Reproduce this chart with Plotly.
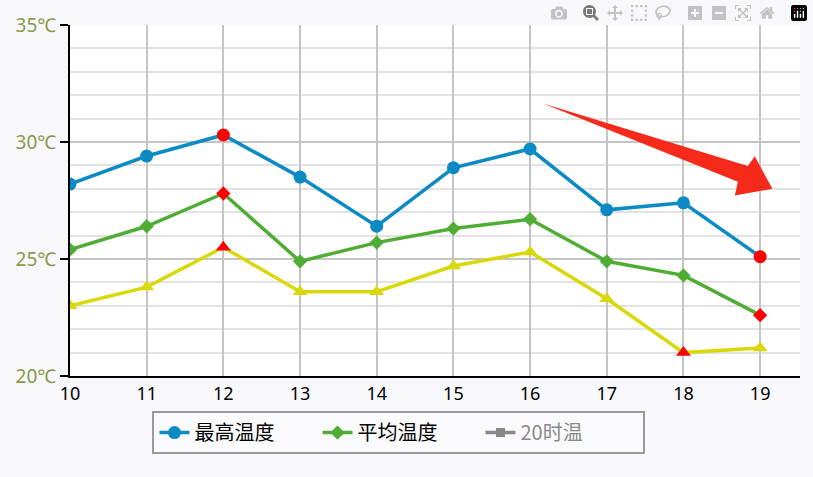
import plotly.graph_objects as go

days = [10, 11, 12, 13, 14, 15, 16, 17, 18, 19]
t_max = [28.2, 29.4, 30.3, 28.5, 26.4, 28.9, 29.7, 27.1, 27.4, 25.1]
t_avg = [25.4, 26.4, 27.8, 24.9, 25.7, 26.3, 26.7, 24.9, 24.3, 22.6]
t_20h = [23.0, 23.8, 25.5, 23.6, 23.6, 24.7, 25.3, 23.3, 21.0, 21.2]
hi_max = [12, 19]
hi_avg = [12, 19]
hi_20h = [12, 18]
y_ticks = [20, 25, 30, 35]

fig = go.Figure()


def series(name, ys, color, symbol, size, hi, legend=True):
    cols = ["red" if d in hi else color for d in days]
    fig.add_trace(go.Scatter(x=days, y=ys, name=name, mode="lines+markers",
                             line=dict(color=color, width=3.5),
                             marker=dict(color=cols, symbol=symbol, size=size),
                             showlegend=legend))


series("最高温度", t_max, "#0b8ac4", "circle", 13, hi_max)
series("平均温度", t_avg, "#4fad36", "diamond", 11, hi_avg)
series("20h", t_20h, "#d8d80a", "triangle-up", 13, hi_20h, legend=False)
# legend entry for the third series is grey in the original
fig.add_trace(go.Scatter(x=[None], y=[None], mode="lines+markers",
                         name="<span style='color:#888'>20时温</span>",
                         line=dict(color="#888", width=3.5),
                         marker=dict(color="#888", symbol="square", size=9)))

# big red arrow (pixel-estimated polygon in axis units)
fig.add_shape(type="path", xref="x", yref="y", fillcolor="#f52a1a", line_width=0,
              path="M 16.17 31.65 L 18.84 28.97 L 18.93 29.39 L 19.16 28.0 "
                   "L 18.67 27.71 L 18.71 28.30 Z")

fig.update_xaxes(range=[10, 19.52], tickvals=days, showgrid=True, gridcolor="#c4c4c4",
                 gridwidth=2, showline=True, linecolor="black", linewidth=2,
                 tickfont=dict(size=18, color="black", family="Noto Sans"),
                 zeroline=False)
fig.update_yaxes(range=[20, 35], tickvals=y_ticks, ticktext=[f"{v}℃" for v in y_ticks],
                 showgrid=True, gridcolor="#c4c4c4", gridwidth=2,
                 minor=dict(dtick=1, showgrid=True, gridcolor="#e2e2e2", gridwidth=2),
                 showline=True, linecolor="black", linewidth=2,
                 ticks="outside", ticklen=8, tickwidth=2, tickcolor="black",
                 tickfont=dict(size=19, color="#8a9a4a", family="Noto Sans"),
                 zeroline=False)
fig.update_layout(width=813, height=477, paper_bgcolor="#f8f8fc", plot_bgcolor="white",
                  margin=dict(l=70, r=13, t=18, b=101),
                  legend=dict(orientation="h", x=0.113, y=-0.1, xanchor="left", yanchor="top",
                              bgcolor="#fafafd", bordercolor="#999", borderwidth=2,
                              font=dict(size=20, color="black", family="Noto Sans CJK SC"),
                              itemwidth=30, entrywidth=118),
                  showlegend=True)
fig.write_html("out.html", post_script="document.body.style.margin='0';")
